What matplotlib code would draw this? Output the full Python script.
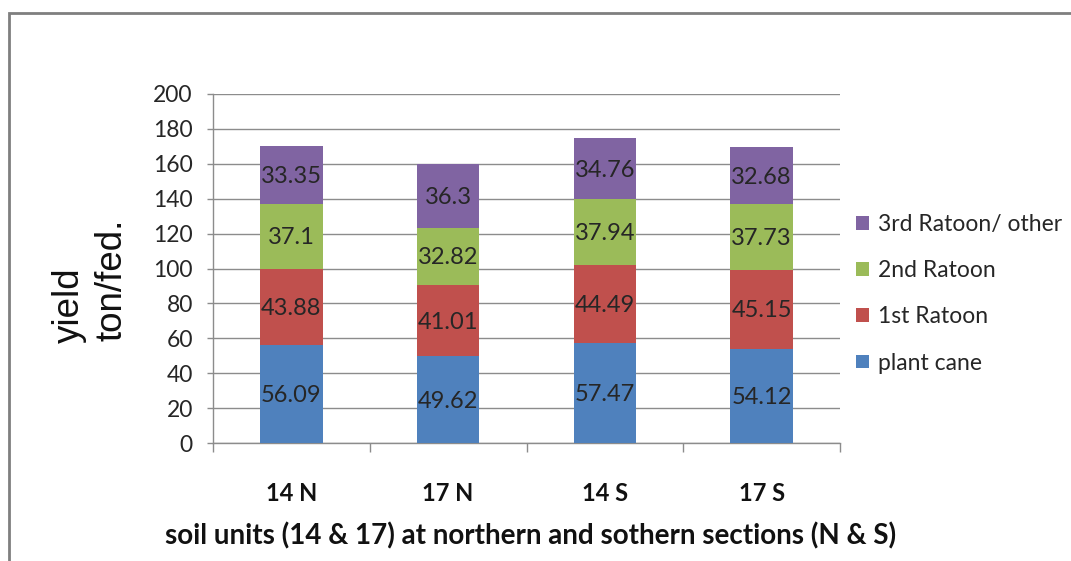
import matplotlib
matplotlib.use("Agg")
import matplotlib.pyplot as plt
import numpy as np
from matplotlib.patches import Rectangle, Patch

plt.rcParams['font.family'] = ['Lato', 'DejaVu Sans']

categories = ["14 N", "17 N", "14 S", "17 S"]
series_names = ["plant cane", "1st Ratoon", "2nd Ratoon", "3rd Ratoon/ other"]
plant_cane = [56.09, 49.62, 57.47, 54.12]
ratoon_1 = [43.88, 41.01, 44.49, 45.15]
ratoon_2 = [37.1, 32.82, 37.94, 37.73]
ratoon_3 = [33.35, 36.3, 34.76, 32.68]
y_ticks = [0, 20, 40, 60, 80, 100, 120, 140, 160, 180, 200]

colors = ["#4F81BD", "#C0504D", "#9BBB59", "#8064A2"]
grid_color = "#8C8C8C"
text_color = "#262626"

W, H = 1071, 561
fig = plt.figure(figsize=(W / 100, H / 100), dpi=100)
ax = fig.add_axes([213 / W, 1 - 443 / H, (840 - 213) / W, (443 - 94) / H])

# outer chart frame
fig.patches.append(Rectangle((9 / W, -0.05), 1.2, 1 - 13 / H + 0.05,
                             transform=fig.transFigure, fill=False,
                             edgecolor="#7F7F7F", linewidth=2, zorder=0))

x = np.arange(len(categories))
bottom = np.zeros(len(categories))
for name, vals, col in zip(series_names, [plant_cane, ratoon_1, ratoon_2, ratoon_3], colors):
    vals = np.array(vals)
    bars = ax.bar(x, vals, width=0.40, bottom=bottom, color=col, zorder=3, label=name)
    for b, v, b0 in zip(bars, vals, bottom):
        ax.text(b.get_x() + b.get_width() / 2, b0 + v / 2 - 1.0, f"{v:g}",
                ha="center", va="center", fontsize=17, color=text_color, zorder=4)
    bottom += vals

ax.set_xlim(-0.5, len(categories) - 0.5)
ax.set_ylim(0, 200)
ax.set_yticks(y_ticks)
ax.yaxis.grid(True, color=grid_color, linewidth=1.0, zorder=0)
ax.set_axisbelow(True)

for s in ["top", "right"]:
    ax.spines[s].set_visible(False)
for s in ["left", "bottom"]:
    ax.spines[s].set_color(grid_color)
    ax.spines[s].set_linewidth(1.0)

ax.tick_params(axis="y", length=4.5, width=1, color=grid_color, labelsize=16.5,
               labelcolor=text_color, pad=10)
ax.set_xticks(x)
ax.set_xticklabels(categories, fontsize=17, fontweight="bold", color="#111111")
ax.tick_params(axis="x", which="major", length=0, pad=28)
ax.set_xticks(np.arange(len(categories) + 1) - 0.5, minor=True)
ax.tick_params(axis="x", which="minor", length=6.5, width=1, color=grid_color)

fig.text(531 / W, 1 - 536 / H,
         "soil units (14 & 17) at northern and sothern sections (N & S)",
         ha="center", va="center", fontsize=20, fontweight="bold", color="#111111")

# two-line vertical axis title, lines start at the same height
ylab_font = dict(family="Liberation Sans", fontsize=26.5, color="#111111", rotation=90)
fig.text(69 / W, 1 - 343 / H, "yield", ha="center", va="bottom", **ylab_font)
fig.text(112 / W, 1 - 341 / H, "ton/fed.", ha="center", va="bottom", **ylab_font)

handles = [Patch(facecolor=c, edgecolor="none") for c in colors][::-1]
labels = series_names[::-1]
fig.legend(handles, labels, loc="upper left", bbox_to_anchor=(856 / W, 1 - 214 / H),
           frameon=False, fontsize=16.5, handlelength=0.55, handleheight=0.55,
           handletextpad=0.4, labelspacing=1.1, borderaxespad=0, borderpad=0,
           labelcolor=text_color)

fig.savefig("out.png", dpi=100)
